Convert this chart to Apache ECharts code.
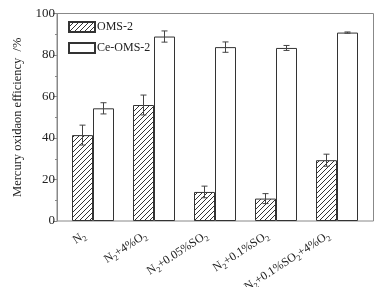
<!DOCTYPE html>
<html>
<head>
<meta charset="utf-8">
<script src="https://cdn.jsdelivr.net/npm/echarts@6/dist/echarts.min.js"></script>
<style>
  html, body { margin: 0; padding: 0; background: #fff; }
  #chart { width: 387px; height: 287px; }
</style>
</head>
<body>
<div id="chart"></div>
<script>
// categories (rich text for subscripts)
const categories = [
  'N{s|2}',
  'N{s|2}+4%O{s|2}',
  'N{s|2}+0.05%SO{s|2}',
  'N{s|2}+0.1%SO{s|2}',
  'N{s|2}+0.1%SO{s|2}+4%O{s|2}'
];
const omsValues = [41.4, 55.9, 14.0, 10.8, 29.3];
const omsErrors = [4.8, 4.8, 2.8, 2.4, 2.9];
const ceValues = [54.3, 88.9, 83.8, 83.4, 90.8];
const ceErrors = [2.7, 2.7, 2.5, 1.2, 0.3];
const yTicks = [0, 20, 40, 60, 80, 100];

const font = 'Liberation Serif, Times New Roman, serif';
const barW = 21;

// motif hachuré pour OMS-2
function hatch() {
  const c = document.createElement('canvas');
  c.width = 5; c.height = 5;
  const ctx = c.getContext('2d');
  ctx.fillStyle = '#fff';
  ctx.fillRect(0, 0, 5, 5);
  ctx.strokeStyle = '#333';
  ctx.lineWidth = 1;
  ctx.beginPath();
  ctx.moveTo(0, 5); ctx.lineTo(5, 0);
  ctx.moveTo(-1, 1); ctx.lineTo(1, -1);
  ctx.moveTo(4, 6); ctx.lineTo(6, 4);
  ctx.stroke();
  return c;
}

function errorSeries(name, values, errors, shift) {
  return {
    name: name + '-err',
    type: 'custom',
    xAxisIndex: 0,
    yAxisIndex: 0,
    z: 5,
    data: values.map((v, i) => [i, v - errors[i], v + errors[i]]),
    renderItem: function (params, api) {
      const lo = api.coord([api.value(0), api.value(1)]);
      const hi = api.coord([api.value(0), api.value(2)]);
      const x = lo[0] + shift;
      const cap = 3;
      const style = { stroke: '#444', lineWidth: 1 };
      return {
        type: 'group',
        children: [
          { type: 'line', shape: { x1: x, y1: lo[1], x2: x, y2: hi[1] }, style: style },
          { type: 'line', shape: { x1: x - cap, y1: lo[1], x2: x + cap, y2: lo[1] }, style: style },
          { type: 'line', shape: { x1: x - cap, y1: hi[1], x2: x + cap, y2: hi[1] }, style: style }
        ]
      };
    }
  };
}

const chart = echarts.init(document.getElementById('chart'));

chart.setOption({
  animation: false,
  textStyle: { fontFamily: font },
  grid: [
    { left: 62.5, right: 19.5, top: 13.5, bottom: 66, outerBoundsMode: 'none', containLabel: false },
    { left: 57, right: 13.5, top: 13.5, bottom: 66, outerBoundsMode: 'none', containLabel: false, show: true, borderColor: '#888', borderWidth: 1, backgroundColor: 'transparent' }
  ],
  legend: {
    orient: 'vertical',
    left: 63,
    top: 16,
    itemWidth: 26,
    itemHeight: 10,
    itemGap: 9,
    icon: 'rect',
    textStyle: { fontFamily: font, fontSize: 12, color: '#222', padding: [0, 0, 0, -3] },
    data: ['OMS-2', 'Ce-OMS-2']
  },
  xAxis: [
    {
      type: 'category',
      gridIndex: 0,
      data: categories,
      axisLine: { show: false },
      axisTick: { show: false },
      axisLabel: {
        rotate: 33,
        margin: 8,
        interval: 0,
        padding: [0, 10, 0, 0],
        fontFamily: font,
        fontSize: 12,
        color: '#222',
        rich: {
          s: { fontFamily: font, fontSize: 8, color: '#222', padding: [8, 0, 0, 0] }
        }
      }
    },
    { type: 'value', gridIndex: 1, show: false, min: 0, max: 1 }
  ],
  yAxis: [
    { type: 'value', gridIndex: 0, min: 0, max: 100, show: false },
    {
      type: 'value',
      gridIndex: 1,
      min: 0,
      max: 100,
      interval: 20,
      name: 'Mercury oxidaon efficiency  /%',
      nameLocation: 'middle',
      nameGap: 22,
      nameTextStyle: { fontFamily: font, fontSize: 12.5, color: '#222' },
      axisLine: { show: true, lineStyle: { color: '#888' } },
      axisTick: { show: true, length: 4, lineStyle: { color: '#888' } },
      minorTick: { show: true, splitNumber: 2, length: 2, lineStyle: { color: '#888' } },
      splitLine: { show: false },
      axisLabel: {
        margin: 2,
        fontFamily: font,
        fontSize: 13,
        color: '#222',
        formatter: v => yTicks.includes(v) ? String(v) : ''
      }
    }
  ],
  series: [
    {
      name: 'OMS-2',
      type: 'bar',
      xAxisIndex: 0,
      yAxisIndex: 0,
      barWidth: barW,
      barGap: '0%',
      data: omsValues,
      itemStyle: { color: { image: hatch(), repeat: 'repeat' }, borderColor: '#333', borderWidth: 1 }
    },
    {
      name: 'Ce-OMS-2',
      type: 'bar',
      xAxisIndex: 0,
      yAxisIndex: 0,
      barWidth: barW,
      barGap: '0%',
      data: ceValues,
      itemStyle: { color: '#fff', borderColor: '#333', borderWidth: 1 }
    },
    errorSeries('OMS-2', omsValues, omsErrors, -barW / 2),
    errorSeries('Ce-OMS-2', ceValues, ceErrors, barW / 2)
  ]
});
</script>
</body>
</html>
